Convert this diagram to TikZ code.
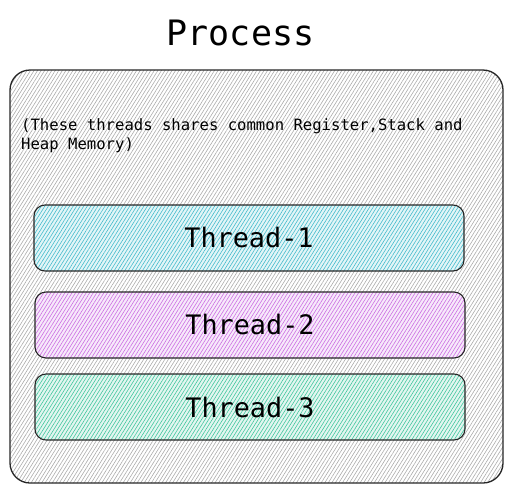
\documentclass[tikz,border=0pt]{standalone}
\usepackage{fontspec}
\setmonofont{DejaVu Sans Mono}
\usepackage{tikz}
\usetikzlibrary{patterns.meta}

\definecolor{hatchgray}{HTML}{ABABAB}
\definecolor{threadcyan}{HTML}{15AABF}
\definecolor{threadviolet}{HTML}{BE4BDB}
\definecolor{threadgreen}{HTML}{12B886}

\begin{document}
\begin{tikzpicture}[x=1pt, y=-1pt,
  hatch/.style={pattern={Lines[angle=58, distance=3pt, line width=0.6pt]}, pattern color=#1},
  box/.style={draw=black!85, line width=1.1pt, rounded corners=11pt, inner sep=0pt,
    minimum width=430pt, minimum height=66pt, font=\ttfamily\fontsize{26.8}{30}\selectfont},
  thread/.style={box, preaction={fill=#1!12}, hatch=#1!80}]

% Fix the page size
\useasboundingbox (0,0) rectangle (513,493);

% Title above the process box
\node (title) at (240.5,33) {\ttfamily\fontsize{35}{38}\selectfont Process};

% Draw the process box
\node[draw=black!85, line width=1.3pt, rounded corners=20pt, minimum width=493pt,
  minimum height=413pt, hatch=hatchgray] (process) at (256.5,276.5) {};

% Note about the shared memory
\node[anchor=base west, align=left, inner sep=0pt,
  font=\ttfamily\fontsize{15.6}{18.5}\selectfont] (note) at (21,149)
  {(These threads shares common Register,Stack and\\Heap Memory)};

% Draw the threads
\node[thread=threadcyan] (thread1) at (249,238) {Thread-1};
\node[thread=threadviolet] (thread2) at (250,325) {Thread-2};
\node[thread=threadgreen] (thread3) at (250,407) {Thread-3};

\end{tikzpicture}
\end{document}
